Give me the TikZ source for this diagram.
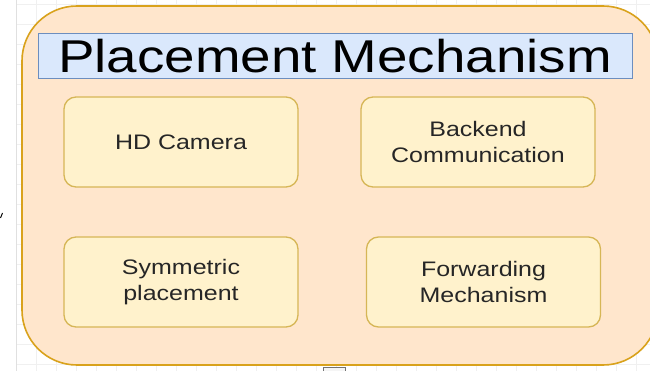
\documentclass[tikz,border=0pt]{standalone}
\usepackage{graphicx}
\usepackage{fontspec}
\setmainfont{Liberation Sans}
\usepackage{tikz}
\usetikzlibrary{calc,backgrounds}
\definecolor{frameFill}{HTML}{FFE6CC}
\definecolor{frameLine}{HTML}{D9A21C}
\definecolor{titleFill}{HTML}{DAE8FC}
\definecolor{titleLine}{HTML}{6C8EBF}
\definecolor{partFill}{HTML}{FFF2CC}
\definecolor{partLine}{HTML}{D6B656}
\definecolor{gridLine}{HTML}{F0F0F0}
\newcommand{\partw}{234pt}
\newcommand{\parth}{90pt}
\newcommand{\wide}[1]{\scalebox{1.19}[1]{#1}}

\begin{document}
\begin{tikzpicture}[x=1pt, y=-1pt,
  frame/.style={draw=frameLine, fill=frameFill, line width=1.6pt, rounded corners=55pt, inner sep=0pt},
  titlebar/.style={draw=titleLine, fill=titleFill, line width=1pt, inner sep=0pt, font=\fontsize{46}{50}\selectfont},
  part/.style={draw=partLine, fill=partFill, line width=1.3pt, rounded corners=12pt, inner sep=0pt,
    minimum width=\partw, minimum height=\parth, align=center, text=black!85, font=\fontsize{21}{26}\selectfont}]
\useasboundingbox (0,0) rectangle (650,371);
\clip (0,0) rectangle (650,371);
% page grid
\fill[white] (0,0) rectangle (650,371);
\foreach \gx in {36,56,...,656} \draw[gridLine, line width=0.8pt] (\gx,0) -- (\gx,371);
\foreach \gy in {4,24,...,364} \draw[gridLine, line width=0.8pt] (16,\gy) -- (650,\gy);
\draw[black!12, line width=1pt] (16,0) -- (16,371);
\draw[black, line width=1pt] (0.5,218) -- (2.5,213);
% outer container
\node[frame, minimum width=636pt, minimum height=359pt] (frame) at (340,185.5) {};
\node[titlebar, minimum width=594pt, minimum height=45pt] (title) at (335,56.5) {\wide{Placement Mechanism}};
% parts
\node[part] (camera) at (181,142) {\wide{HD Camera}};
\node[part] (backend) at (478,142) {\wide{Backend}\\\wide{Communication}};
\node[part] (symm) at (181,282) {\wide{Symmetric}\\\wide{placement}};
\node[part] (fwd) at (483.5,282) {\wide{Forwarding}\\\wide{Mechanism}};
% resize handle
\node[draw=black!55, fill=black!4, line width=1pt, minimum width=22pt, minimum height=10pt, inner sep=0pt] (handle) at (334,372) {};
\end{tikzpicture}
\end{document}
